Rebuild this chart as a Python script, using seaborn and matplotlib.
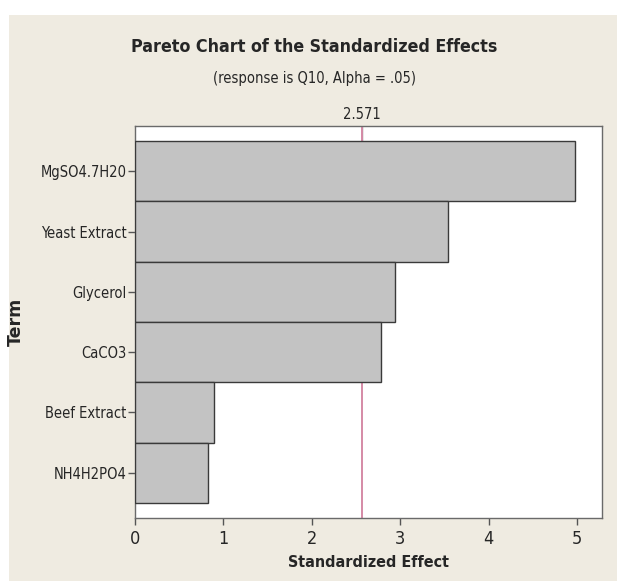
import matplotlib
matplotlib.use("Agg")
import matplotlib.pyplot as plt
from matplotlib.patches import Rectangle
import seaborn as sns
import pandas as pd

terms = ["MgSO4.7H20", "Yeast Extract", "Glycerol", "CaCO3", "Beef Extract", "NH4H2PO4"]
effects = [4.98, 3.54, 2.94, 2.78, 0.90, 0.83]
critical_value = 2.571
x_ticks = [0, 1, 2, 3, 4, 5]

df = pd.DataFrame({"Term": terms, "Standardized Effect": effects})

sns.set_theme(style="white")
plt.rcParams["font.family"] = ["DejaVu Sans"]
plt.rcParams["font.stretch"] = "condensed"

fig = plt.figure(figsize=(6.17, 5.81), dpi=100)
fig.patch.set_facecolor("white")
# cream panel behind the chart
fig.patches.append(Rectangle((9 / 617, 0), 1 - 9 / 617, 1 - 15 / 581,
                             transform=fig.transFigure, facecolor="#efebe1",
                             edgecolor="none", zorder=-10))

ax = fig.add_axes([134.7 / 617, 1 - 518 / 581, (602 - 134.7) / 617, (518 - 126) / 581])
ax.set_facecolor("white")

sns.barplot(data=df, x="Standardized Effect", y="Term", orient="h",
            color="#c3c3c3", saturation=1, width=1.0,
            edgecolor="#3a3a3a", linewidth=1.0, ax=ax, zorder=3)

ax.axvline(critical_value, color="#d58aa6", lw=1.4, zorder=1)

ax.set_xlim(0, 5.28)
ax.set_ylim(5.75, -0.75)
ax.set_xticks(x_ticks)
ax.set_xticklabels([str(t) for t in x_ticks], fontsize=13, fontstretch="condensed")
ax.tick_params(axis="x", direction="out", length=5, width=1, color="#555555", pad=4)
ax.tick_params(axis="y", direction="out", length=5, width=1, color="#555555", pad=1, labelsize=10.5)
ax.tick_params(bottom=True, left=True)

for s in ax.spines.values():
    s.set_color("#6a6a6a")
    s.set_linewidth(1.0)

ax.set_xlabel("Standardized Effect", fontsize=11.5, fontweight="bold", labelpad=5)
ax.set_ylabel("Term", fontsize=12.5, fontweight="bold", fontstretch="normal")
ax.yaxis.set_label_coords((25 - 134.7) / (602 - 134.7), 0.5)

# critical value marker on the top edge
sec = ax.secondary_xaxis("top")
sec.set_xticks([critical_value])
sec.set_xticklabels([f"{critical_value:.3f}"], fontsize=10.5)
sec.tick_params(direction="in", length=14, width=1, color="#888888", pad=3)
sec.spines["top"].set_visible(False)

fig.text(0.510, 1 - 47 / 581, "Pareto Chart of the Standardized Effects",
         ha="center", va="center", fontsize=12.8, fontweight="bold")
fig.text(0.510, 1 - 79 / 581, "(response is Q10, Alpha = .05)",
         ha="center", va="center", fontsize=10.5)

fig.savefig("out.png", dpi=100, facecolor=fig.get_facecolor())
